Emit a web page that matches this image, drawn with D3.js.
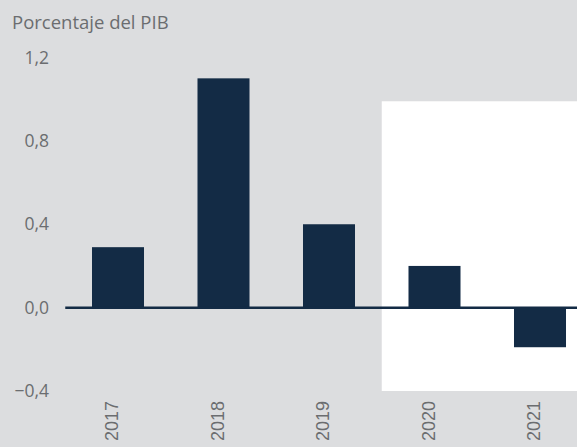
<!DOCTYPE html>
<html>
	<head>
		<meta charset="utf-8">
		<script type="text/javascript" src="https://cdn.jsdelivr.net/npm/d3@7"></script>
		<style>
			body { margin: 0; background: #dcdddf; }
			svg { display: block; }
		</style>
	</head>
	<body>
		<svg id="chart"></svg>
		<script>
			// Data
			var years = ["2017", "2018", "2019", "2020", "2021"];
			var values = [0.29, 1.10, 0.40, 0.20, -0.19];
			var yTicks = [-0.4, 0.0, 0.4, 0.8, 1.2];
			var unitLabel = "Porcentaje del PIB";
			// shaded (white) period
			var shadeYears = ["2020", "2021"];
			var shadeTop = 0.99;

			var width = 577, height = 447;
			var navy = "#132b45";
			var grey = "#6b6d70";

			var svg = d3.select("#chart").attr("width", width).attr("height", height);

			var x = d3.scaleBand()
				.domain(years)
				.range([65.25, 592.75])
				.paddingInner(0.507)
				.paddingOuter(0.2535);

			var y = d3.scaleLinear()
				.domain([-0.4, 1.2])
				.range([391, 57.5]);

			// white panel behind the last years
			var firstShade = x(shadeYears[0]) - x.step() * x.paddingInner() / 2;
			svg.append("rect")
				.attr("x", firstShade)
				.attr("y", y(shadeTop))
				.attr("width", width - firstShade)
				.attr("height", y(-0.4) - y(shadeTop))
				.attr("fill", "#ffffff");

			svg.append("text")
				.attr("x", 12)
				.attr("y", 29)
				.attr("fill", grey)
				.style("font-family", "'Open Sans', sans-serif")
				.style("font-size", "18.5px")
				.text(unitLabel);

			var fmt = function(d) { return d3.format(".1f")(d).replace(".", ",").replace("-", "\u2212"); };

			var yAxis = svg.append("g")
				.attr("transform", "translate(49,0)")
				.call(d3.axisLeft(y).tickValues(yTicks).tickSize(0).tickPadding(0).tickFormat(fmt));
			yAxis.select(".domain").remove();
			yAxis.selectAll("text")
				.attr("fill", grey)
				.style("font-family", "'Open Sans', sans-serif")
				.style("font-size", "17.5px");

			svg.selectAll("rect.bar")
				.data(values)
				.enter()
				.append("rect")
				.attr("class", "bar")
				.attr("x", function(d, i) { return x(years[i]); })
				.attr("y", function(d) { return y(Math.max(0, d)); })
				.attr("width", x.bandwidth())
				.attr("height", function(d) { return Math.abs(y(d) - y(0)); })
				.attr("fill", navy);

			svg.append("line")
				.attr("x1", x.range()[0])
				.attr("x2", width)
				.attr("y1", y(0))
				.attr("y2", y(0))
				.attr("stroke", navy)
				.attr("stroke-width", 2.5);

			svg.selectAll("text.year")
				.data(years)
				.enter()
				.append("text")
				.attr("class", "year")
				.attr("transform", function(d) { return "translate(" + (x(d) + x.bandwidth() / 2) + ",441) rotate(-90)"; })
				.attr("fill", grey)
				.style("font-family", "'Liberation Sans', Arial, sans-serif")
				.style("font-size", "18px")
				.text(function(d) { return d; });
		</script>
	</body>
</html>
